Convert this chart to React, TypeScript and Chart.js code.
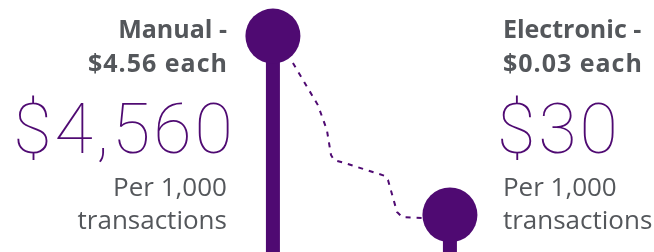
import React, { useEffect, useRef } from "react";
import { Chart, registerables } from "chart.js";

Chart.register(...registerables);

// ---- data ----
const categories = ["Manual", "Electronic"];
const costEach = [4.56, 0.03];
const costPer1000 = [4560, 30];
const unitLabel = ["Per 1,000", "transactions"];
// visual heights of the lollipops (decorative, not to scale)
const stemHeights = [85.7, 14.7];
const categoryX = [1, 2];
// decorative dashed connector path (data units)
const connectorX = [1.113, 1.254, 1.305, 1.328, 1.345, 1.407, 1.633, 1.65, 1.701, 1.729, 1.847];
const connectorY = [75.0, 58.3, 48.4, 38.5, 36.5, 35.3, 30.2, 28.6, 15.9, 13.9, 13.5];

const PURPLE = "#4f0a72";
const GRAY = "#54575b";

const fmtMoney = (v: number, d: number) =>
  "$" + v.toLocaleString("en-US", { minimumFractionDigits: d, maximumFractionDigits: d });

const labelPlugin = {
  id: "lollipopLabels",
  afterDraw(chart: any) {
    const ctx = chart.ctx;
    const xs = chart.scales.x;
    categories.forEach((cat, i) => {
      const px = xs.getPixelForValue(categoryX[i]);
      const left = i === 0;
      ctx.save();
      ctx.textBaseline = "alphabetic";
      ctx.textAlign = left ? "right" : "left";
      const gx = left ? px - 46 : px + 53;
      const bx = left ? px - 37 : px + 47;
      ctx.fillStyle = GRAY;
      ctx.font = "700 25px 'Open Sans'";
      ctx.fillText(cat + " -", gx, 38);
      (ctx as any).letterSpacing = "1px";
      ctx.fillText(fmtMoney(costEach[i], 2) + " each", left ? gx + 1 : gx, 72);
      ctx.fillStyle = PURPLE;
      ctx.font = "100 70px Roboto";
      (ctx as any).letterSpacing = "3px";
      ctx.fillText(fmtMoney(costPer1000[i], 0), bx, 153);
      (ctx as any).letterSpacing = "0px";
      ctx.fillStyle = GRAY;
      ctx.font = "500 26px 'Open Sans'";
      ctx.fillText(unitLabel[0], gx, 196);
      ctx.fillText(unitLabel[1], gx, 229);
      ctx.restore();
    });
  },
};

export default function App() {
  const ref = useRef<HTMLCanvasElement>(null);
  useEffect(() => {
    document.body.style.margin = "0";
    const stems = categories.map((c, i) => ({
      label: c,
      data: [
        { x: categoryX[i], y: 0 },
        { x: categoryX[i], y: stemHeights[i] },
      ],
      showLine: true,
      borderColor: PURPLE,
      borderWidth: 14,
      borderCapStyle: "butt",
      pointRadius: [0, 27.5],
      pointHoverRadius: [0, 27.5],
      pointBackgroundColor: PURPLE,
      pointBorderWidth: 0,
      clip: false,
    }));
    const connector = {
      label: "connector",
      data: connectorX.map((x, i) => ({ x, y: connectorY[i] })),
      showLine: true,
      borderColor: PURPLE,
      borderWidth: 2,
      borderDash: [5, 6],
      pointRadius: 0,
      clip: false,
    };
    const chart = new Chart(ref.current!, {
      type: "scatter",
      data: { datasets: [...stems, connector] as any },
      options: {
        animation: false,
        responsive: false,
        layout: { padding: 0, autoPadding: false },
        plugins: { legend: { display: false }, tooltip: { enabled: false } },
        scales: {
          x: { type: "linear", min: -0.542, max: 3.153, display: false },
          y: { type: "linear", min: 0, max: 100, display: false },
        },
      } as any,
      plugins: [labelPlugin],
    });
    return () => chart.destroy();
  }, []);
  return <canvas ref={ref} width={654} height={252} style={{ display: "block" }} />;
}
